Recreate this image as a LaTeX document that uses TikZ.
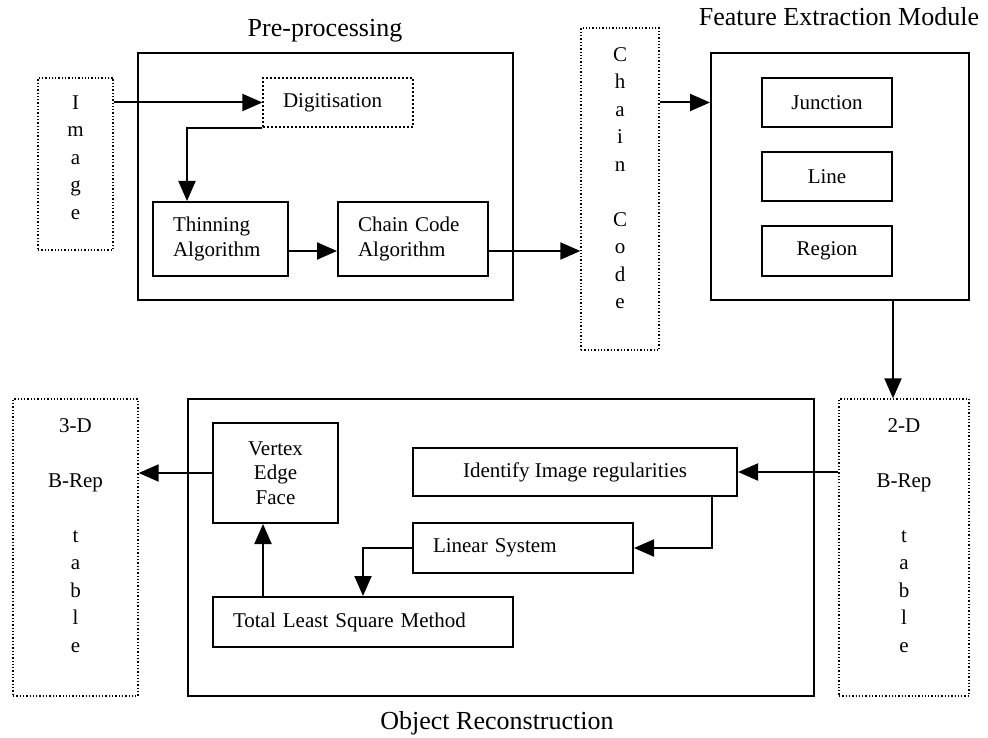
\documentclass[tikz,border=0pt]{standalone}
\usepackage{fontspec}
\setmainfont{Liberation Serif}
\usetikzlibrary{positioning, arrows.meta, calc}

\begin{document}
\begin{tikzpicture}[x=1pt, y=-1pt,
  blk/.style={draw, line width=2pt, inner sep=0pt, align=center, font=\fontsize{21}{24.5}\selectfont},
  lblk/.style={blk, inner xsep=20pt, align=left},
  ldotblk/.style={lblk, dotted, line width=1.3pt},
  dotblk/.style={draw, dotted, line width=1.3pt, inner sep=0pt},
  vtxt/.style={inner sep=0pt, align=center, font=\fontsize{21}{27.5}\selectfont},
  ttl/.style={anchor=base, inner sep=0pt, font=\fontsize{26}{30}\selectfont},
  arr/.style={line width=2pt, -{Triangle[length=20pt, width=17pt]}}
]
  \useasboundingbox (0,0) rectangle (988,738);

  \node[ttl] (pretitle) at (325,37) {Pre-processing};
  \node[ttl] (fetitle) at (839,26) {Feature Extraction Module};
  \node[ttl] (objtitle) at (497,729) {Object Reconstruction};

  \node[dotblk, minimum width=75pt, minimum height=172pt] (image) at (75.5,164) {};
  \node[vtxt] (imagetxt) at (75.5,157.5) {I\\m\\a\\g\\e};
  \node[blk, minimum width=375pt, minimum height=247pt] (pre) at (325.5,176.5) {};
  \node[ldotblk, text width=110pt, minimum height=49pt] (digit) at (338,102.5) {Digitisation};
  \node[lblk, text width=95pt, minimum height=74pt] (thin) at (220.5,239) {Thinning\\Algorithm};
  \node[lblk, text width=110pt, minimum height=74pt] (calg) at (413,239) {Chain Code\\Algorithm};

  \node[dotblk, minimum width=78pt, minimum height=322pt] (ccode) at (620,189) {};
  \node[vtxt] (ccodetxt) at (620,178) {C\\h\\a\\i\\n\\[27.5pt]C\\o\\d\\e};

  \node[blk, minimum width=258pt, minimum height=247pt] (fe) at (840,176.5) {};
  \node[blk, minimum width=130pt, minimum height=49pt] (junc) at (827,102.5) {Junction};
  \node[blk, minimum width=130pt, minimum height=49pt] (lin) at (827,176.5) {Line};
  \node[blk, minimum width=130pt, minimum height=50pt] (region) at (827,251) {Region};

  \node[dotblk, minimum width=125pt, minimum height=297pt] (threed) at (75.5,547.5) {};
  \node[vtxt] (threedtxt) at (75.5,535.5) {3-D\\[27.5pt]B-Rep\\[27.5pt]t\\a\\b\\l\\e};
  \node[blk, minimum width=626pt, minimum height=297pt] (obj) at (501,547.5) {};
  \node[blk, minimum width=125pt, minimum height=100pt] (vertex) at (275.5,473) {Vertex\\Edge\\Face};
  \node[blk, minimum width=324pt, minimum height=48pt] (ident) at (575,472) {Identify Image regularities};
  \node[lblk, text width=180pt, minimum height=50pt] (linear) at (523,548) {Linear System};
  \node[lblk, text width=260pt, minimum height=50pt] (tls) at (363,622) {Total Least Square Method};
  \node[dotblk, minimum width=130pt, minimum height=297pt] (twod) at (904,547.5) {};
  \node[vtxt] (twodtxt) at (904,535.5) {2-D\\[27.5pt]B-Rep\\[27.5pt]t\\a\\b\\l\\e};

  \draw[arr] (digit.west -| image.east) -- (digit.west);
  \draw[arr] (digit.south west) -| ([xshift=35pt]thin.north west);
  \draw[arr] ([yshift=-12pt]thin.east) -- ([yshift=-12pt]calg.west);
  \draw[arr] ([yshift=-12pt]calg.east) coordinate (cout) -- (cout -| ccode.west);
  \draw[arr] (junc.west -| ccode.east) -- (junc.west -| fe.west);
  \draw[arr] (fe.south -| junc.east) -- (twod.north -| junc.east);
  \draw[arr] (ident.east -| twod.west) -- (ident.east);
  \draw[arr] ([xshift=-26pt]ident.south east) |- (linear.east);
  \draw[arr] (linear.west) -| (tls.north);
  \coordinate (vin) at ([xshift=-12.5pt]vertex.south);
  \draw[arr] (vin |- tls.north) -- (vin);
  \draw[arr] (vertex.west) -- (vertex.west -| threed.east);
\end{tikzpicture}
\end{document}
